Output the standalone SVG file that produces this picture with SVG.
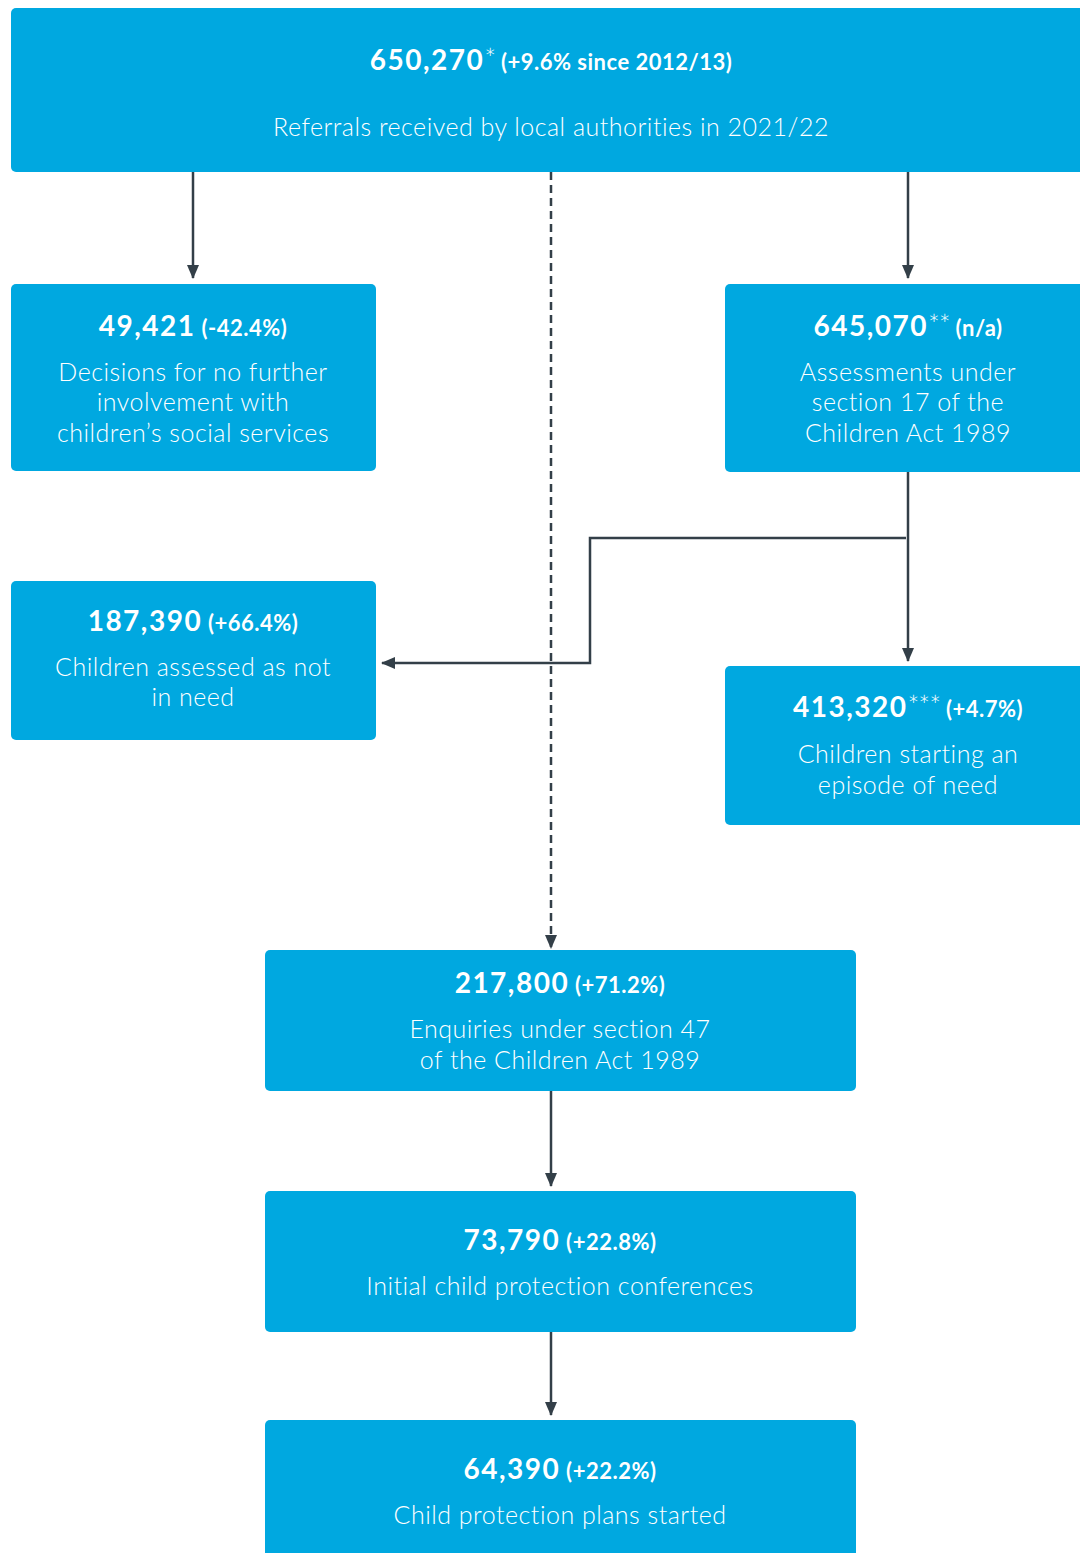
<svg xmlns="http://www.w3.org/2000/svg" width="1080" height="1553" viewBox="0 0 1080 1553">
<style>
.box{fill:#00A8E0}
.t{font-family:Lato,"Liberation Sans",sans-serif;fill:#fff;text-anchor:middle}
.n{font-size:28px;font-weight:bold;letter-spacing:1.5px}
.p{font-size:22px;font-weight:bold;letter-spacing:0.5px}
.s{font-size:28px;font-weight:300;letter-spacing:-1px}
.b{font-size:25px;font-weight:300;letter-spacing:0.5px}
.c{stroke:#333F48;stroke-width:2.5;fill:none}
</style>
<defs>
<marker id="ah2" markerWidth="14" markerHeight="14" refX="13" refY="7" orient="auto" markerUnits="userSpaceOnUse" viewBox="0 0 14 14">
<path d="M0,1 L14,7 L0,13 z" fill="#333F48"/>
</marker>
</defs>
<g id="connectors">
<line class="c" x1="193" y1="172" x2="193" y2="278" marker-end="url(#ah2)"/>
<line class="c" x1="908" y1="172" x2="908" y2="278" marker-end="url(#ah2)"/>
<line class="c" x1="551" y1="172" x2="551" y2="948" stroke-dasharray="8,5" marker-end="url(#ah2)"/>
<line class="c" x1="908" y1="472" x2="908" y2="661" marker-end="url(#ah2)"/>
<polyline class="c" points="906,538 590,538 590,663 382,663" marker-end="url(#ah2)"/>
<line class="c" x1="551" y1="1091" x2="551" y2="1186" marker-end="url(#ah2)"/>
<line class="c" x1="551" y1="1332" x2="551" y2="1415" marker-end="url(#ah2)"/>
</g>
<g id="referrals">
<rect class="box" x="11" y="8" width="1080" height="164" rx="5"/>
<text class="t" x="551" y="70"><tspan class="n">650,270</tspan><tspan class="s" dy="-2">*</tspan><tspan class="p" dy="2"> (+9.6% since 2012/13)</tspan></text>
<text class="t b" x="551" y="136">Referrals received by local authorities in 2021/22</text>
</g>
<g id="nfa">
<rect class="box" x="11" y="284" width="365" height="187" rx="5"/>
<text class="t" x="193" y="336"><tspan class="n">49,421</tspan><tspan class="p"> (-42.4%)</tspan></text>
<text class="t b" x="193" y="381">Decisions for no further</text>
<text class="t b" x="193" y="411">involvement with</text>
<text class="t b" x="193" y="442">children’s social services</text>
</g>
<g id="assessments">
<rect class="box" x="725" y="284" width="365" height="188" rx="5"/>
<text class="t" x="908" y="336"><tspan class="n">645,070</tspan><tspan class="s" dy="-2">**</tspan><tspan class="p" dy="2"> (n/a)</tspan></text>
<text class="t b" x="908" y="381">Assessments under</text>
<text class="t b" x="908" y="411">section 17 of the</text>
<text class="t b" x="908" y="442">Children Act 1989</text>
</g>
<g id="notinneed">
<rect class="box" x="11" y="581" width="365" height="159" rx="5"/>
<text class="t" x="193" y="631"><tspan class="n">187,390</tspan><tspan class="p"> (+66.4%)</tspan></text>
<text class="t b" x="193" y="676">Children assessed as not</text>
<text class="t b" x="193" y="706">in need</text>
</g>
<g id="episode">
<rect class="box" x="725" y="666" width="365" height="159" rx="5"/>
<text class="t" x="908" y="717"><tspan class="n">413,320</tspan><tspan class="s" dy="-2">***</tspan><tspan class="p" dy="2"> (+4.7%)</tspan></text>
<text class="t b" x="908" y="763">Children starting an</text>
<text class="t b" x="908" y="794">episode of need</text>
</g>
<g id="enquiries">
<rect class="box" x="265" y="950" width="591" height="141" rx="5"/>
<text class="t" x="560" y="993"><tspan class="n">217,800</tspan><tspan class="p"> (+71.2%)</tspan></text>
<text class="t b" x="560" y="1038">Enquiries under section 47</text>
<text class="t b" x="560" y="1069">of the Children Act 1989</text>
</g>
<g id="conferences">
<rect class="box" x="265" y="1191" width="591" height="141" rx="5"/>
<text class="t" x="560" y="1250"><tspan class="n">73,790</tspan><tspan class="p"> (+22.8%)</tspan></text>
<text class="t b" x="560" y="1295">Initial child protection conferences</text>
</g>
<g id="plans">
<rect class="box" x="265" y="1420" width="591" height="150" rx="5"/>
<text class="t" x="560" y="1479"><tspan class="n">64,390</tspan><tspan class="p"> (+22.2%)</tspan></text>
<text class="t b" x="560" y="1524">Child protection plans started</text>
</g>
</svg>
